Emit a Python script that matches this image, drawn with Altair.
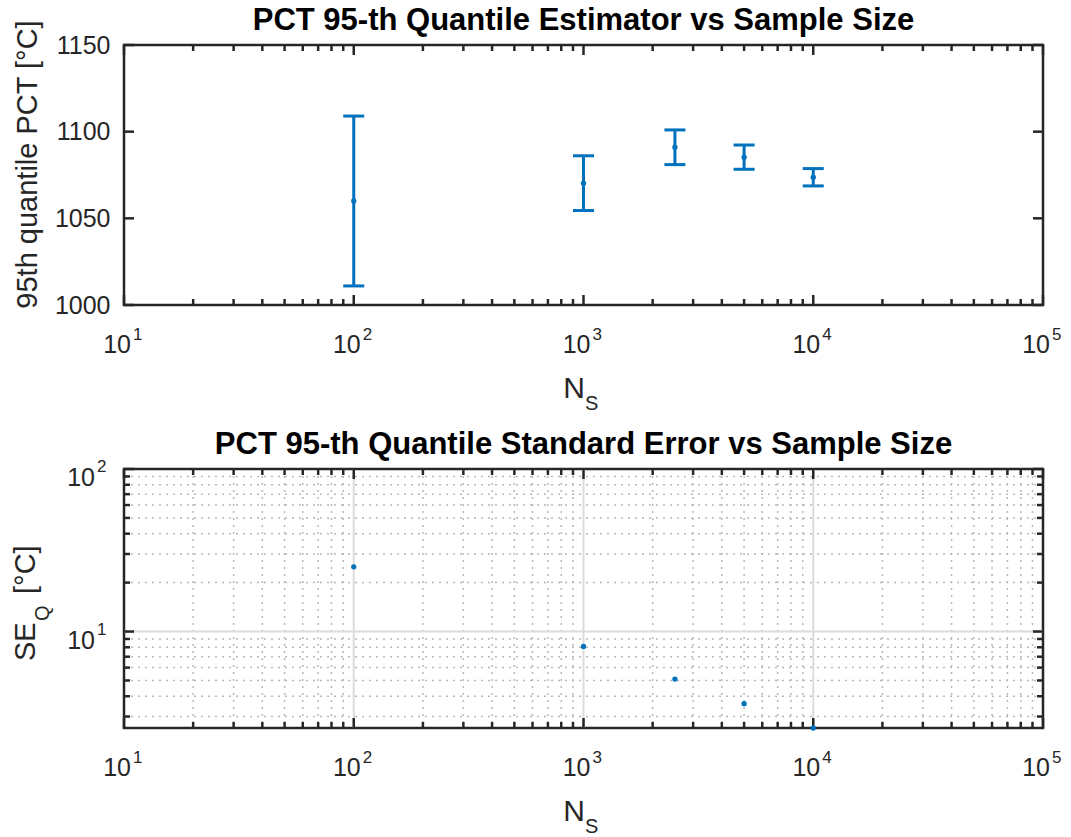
import altair as alt
import pandas as pd

# ---------------- data ----------------
sample_sizes = [100, 1000, 2500, 5000, 10000]
q95_mean = [1060.0, 1070.3, 1091.0, 1085.3, 1073.7]
q95_low = [1011.0, 1054.5, 1081.0, 1078.3, 1068.7]
q95_high = [1109.0, 1086.1, 1101.0, 1092.3, 1078.7]
se_q = [25.0, 8.1, 5.1, 3.6, 2.55]

x_decades = [10, 100, 1000, 10000, 100000]
x_exponents = ["1", "2", "3", "4", "5"]
x_minor = [20, 30, 40, 50, 60, 70, 80, 90,
           200, 300, 400, 500, 600, 700, 800, 900,
           2000, 3000, 4000, 5000, 6000, 7000, 8000, 9000,
           20000, 30000, 40000, 50000, 60000, 70000, 80000, 90000]
x_grid_major = [100, 1000, 10000]
y_top_ticks = [1000, 1050, 1100, 1150]
y_log_major = [10, 100]
y_log_exponents = ["1", "2"]
y_log_minor = [3, 4, 5, 6, 7, 8, 9, 20, 30, 40, 50, 60, 70, 80, 90]

title_top = "PCT 95-th Quantile Estimator vs Sample Size"
title_bottom = "PCT 95-th Quantile Standard Error vs Sample Size"
ytitle_top = "95th quantile PCT [°C]"

# ---------------- style ----------------
FONT = "Liberation Sans"
BLUE = "#0072BD"
AX = "#262626"
TXT = "#262626"
W, H1, H2 = 919, 260, 259
MAJ, MIN = 10, 6
LW = 2.5

xs = alt.Scale(type="log", domain=[10, 100000], nice=False)
ys1 = alt.Scale(domain=[1000, 1150], nice=False, zero=False)
ys2 = alt.Scale(type="log", domain=[2.55, 100], nice=False)

top_yaxis = alt.Axis(values=y_top_ticks, format="d", ticks=False, tickSize=0, domain=False,
                     grid=False, labelPadding=14, labelFontSize=25, labelColor=TXT,
                     labelFont=FONT, title=ytitle_top, titleFontSize=29,
                     titleFontWeight="normal", titleColor=TXT, titleFont=FONT,
                     titlePadding=12, titleY=119)

err_df = pd.DataFrame({"N": sample_sizes, "mean": q95_mean, "low": q95_low, "high": q95_high})
se_df = pd.DataFrame({"N": sample_sizes, "se": se_q})
xmaj_df = pd.DataFrame({"v": x_decades, "e": x_exponents})
xmin_df = pd.DataFrame({"v": x_minor})
xgrid_df = pd.DataFrame({"v": x_grid_major})
ytop_df = pd.DataFrame({"v": y_top_ticks})
ylmaj_df = pd.DataFrame({"v": y_log_major, "e": y_log_exponents})
ylmin_df = pd.DataFrame({"v": y_log_minor})

X = lambda f: alt.X(f, scale=xs, axis=None)


def x_ticks(H):
    out = []
    for df, L in ((xmaj_df, MAJ), (xmin_df, MIN)):
        out.append(alt.Chart(df).mark_rule(color=AX, strokeWidth=LW).encode(
            x=X("v:Q"), y=alt.value(H), y2=alt.value(H - L)))
        out.append(alt.Chart(df).mark_rule(color=AX, strokeWidth=LW).encode(
            x=X("v:Q"), y=alt.value(0), y2=alt.value(L)))
    return out


def x_labels(H):
    base = alt.Chart(xmaj_df).mark_text(align="right", dx=7, baseline="alphabetic",
                                        fontSize=25, color=TXT, font=FONT).encode(
        x=X("v:Q"), y=alt.value(H + 48), text=alt.value("10"))
    ex = alt.Chart(xmaj_df).mark_text(align="left", dx=9, baseline="alphabetic",
                                      fontSize=17, color=TXT, font=FONT).encode(
        x=X("v:Q"), y=alt.value(H + 35), text="e:N")
    n = alt.Chart(pd.DataFrame({"t": ["N"]})).mark_text(
        align="right", baseline="alphabetic", fontSize=30, color=TXT, font=FONT).encode(
        x=alt.value(461), y=alt.value(H + 93), text="t:N")
    s = alt.Chart(pd.DataFrame({"t": ["S"]})).mark_text(
        align="left", baseline="alphabetic", fontSize=20, color=TXT, font=FONT).encode(
        x=alt.value(461), y=alt.value(H + 105), text="t:N")
    return [base, ex, n, s]


def title(t):
    return alt.Chart(pd.DataFrame({"t": [t]})).mark_text(
        align="center", baseline="alphabetic", fontSize=31, fontWeight="bold",
        color="#000000", font=FONT).encode(
        x=alt.value(W / 2), y=alt.value(-15), text="t:N")


# ---------------- top panel ----------------
Yt = lambda f: alt.Y(f, scale=ys1, axis=top_yaxis)
top_layers = []
top_layers.append(alt.Chart(err_df).mark_rule(color=BLUE, strokeWidth=3).encode(
    x=X("N:Q"), y=Yt("low:Q"), y2="high:Q"))
top_layers.append(alt.Chart(err_df).mark_tick(orient="horizontal", size=21, thickness=3,
                                              color=BLUE, opacity=1).encode(
    x=X("N:Q"), y=Yt("high:Q")))
top_layers.append(alt.Chart(err_df).mark_tick(orient="horizontal", size=21, thickness=3,
                                              color=BLUE, opacity=1).encode(
    x=X("N:Q"), y=Yt("low:Q")))
top_layers.append(alt.Chart(err_df).mark_point(filled=True, size=28, color=BLUE,
                                               opacity=1).encode(
    x=X("N:Q"), y=Yt("mean:Q")))
top_layers += x_ticks(H1)
top_layers.append(alt.Chart(ytop_df).mark_rule(color=AX, strokeWidth=LW).encode(
    y=Yt("v:Q"), x=alt.value(0), x2=alt.value(MAJ)))
top_layers.append(alt.Chart(ytop_df).mark_rule(color=AX, strokeWidth=LW).encode(
    y=Yt("v:Q"), x=alt.value(W), x2=alt.value(W - MAJ)))
top_layers += x_labels(H1)
top_layers.append(title(title_top))
top = alt.layer(*top_layers).properties(width=W, height=H1)

# ---------------- bottom panel ----------------
Yb = lambda f: alt.Y(f, scale=ys2, axis=None)
bot_layers = []
bot_layers.append(alt.Chart(xmin_df).mark_rule(color="#b8b8b8", strokeWidth=1.5,
                                               strokeDash=[2, 5]).encode(
    x=X("v:Q"), y=alt.value(0), y2=alt.value(H2)))
bot_layers.append(alt.Chart(ylmin_df).mark_rule(color="#b8b8b8", strokeWidth=1.5,
                                                strokeDash=[2, 5]).encode(
    y=Yb("v:Q"), x=alt.value(0), x2=alt.value(W)))
bot_layers.append(alt.Chart(xgrid_df).mark_rule(color="#dcdcdc", strokeWidth=2).encode(
    x=X("v:Q"), y=alt.value(0), y2=alt.value(H2)))
bot_layers.append(alt.Chart(pd.DataFrame({"v": [10]})).mark_rule(color="#dcdcdc",
                                                                 strokeWidth=2).encode(
    y=Yb("v:Q"), x=alt.value(0), x2=alt.value(W)))
bot_layers += x_ticks(H2)
for df, L in ((ylmaj_df, MAJ), (ylmin_df, MIN)):
    bot_layers.append(alt.Chart(df).mark_rule(color=AX, strokeWidth=LW).encode(
        y=Yb("v:Q"), x=alt.value(0), x2=alt.value(L)))
    bot_layers.append(alt.Chart(df).mark_rule(color=AX, strokeWidth=LW).encode(
        y=Yb("v:Q"), x=alt.value(W), x2=alt.value(W - L)))
bot_layers.append(alt.Chart(se_df).mark_point(filled=True, size=28, color=BLUE,
                                              opacity=1).encode(
    x=X("N:Q"), y=Yb("se:Q")))
bot_layers += x_labels(H2)
bot_layers.append(alt.Chart(ylmaj_df).mark_text(align="right", baseline="alphabetic",
                                                dy=17, fontSize=25, color=TXT,
                                                font=FONT).encode(
    x=alt.value(-29), y=Yb("v:Q"), text=alt.value("10")))
bot_layers.append(alt.Chart(ylmaj_df).mark_text(align="left", baseline="alphabetic",
                                                dy=3, fontSize=17, color=TXT,
                                                font=FONT).encode(
    x=alt.value(-27), y=Yb("v:Q"), text="e:N"))
for txt, xv, yv, fs in (("SE", -89.5, 192, 29), ("Q", -75, 152, 20), ("[°C]", -89.5, 125, 29)):
    bot_layers.append(alt.Chart(pd.DataFrame({"t": [txt]})).mark_text(
        align="left", baseline="alphabetic", angle=270, fontSize=fs, color=TXT,
        font=FONT).encode(x=alt.value(xv), y=alt.value(yv), text="t:N"))
bot_layers.append(title(title_bottom))
bottom = alt.layer(*bot_layers).properties(width=W, height=H2)

chart = alt.vconcat(top, bottom, spacing=11).resolve_scale(
    x="independent", y="independent").properties(
    padding={"left": 10, "top": 3, "right": 5, "bottom": 5}, background="white"
).configure(font=FONT).configure_view(stroke=AX, strokeWidth=LW)

chart.save("out.html", embed_options={"renderer": "svg", "actions": False})
